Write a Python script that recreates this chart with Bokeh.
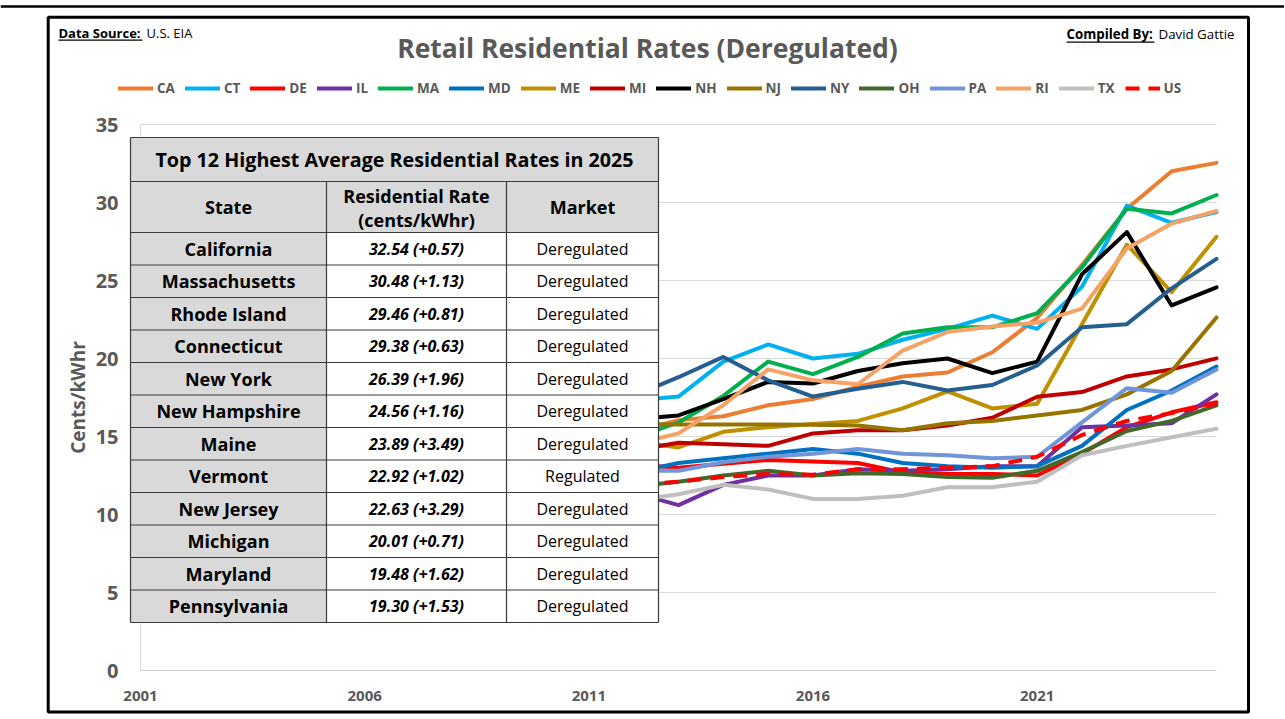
from bokeh.plotting import figure
from bokeh.models import Range1d, FixedTicker, Legend, LegendItem, Label, BoxAnnotation
from bokeh.core.properties import value
from bokeh.embed import file_html
from bokeh.resources import INLINE

# ---------------- data ----------------
years = list(range(2001, 2026))
CA = [12.1, 12.5, 12.1, 12.2, 12.5, 14.0, 14.4, 14.4, 14.7, 14.8, 15.0, 15.3, 16.05, 16.3, 17.0, 17.4, 18.2, 18.85, 19.1, 20.4, 22.6, 26.0, 29.6, 32.0, 32.54]
CT = [11.9, 11.9, 12.2, 12.5, 13.9, 16.9, 19.1, 19.6, 20.3, 19.3, 18.1, 17.3, 17.56, 19.8, 20.9, 20.0, 20.3, 21.2, 21.9, 22.75, 21.9, 24.6, 29.8, 28.7, 29.38]
DE = [8.9, 9.0, 8.9, 8.9, 9.1, 11.4, 12.8, 13.9, 14.1, 13.8, 13.6, 13.2, 13.0, 13.25, 13.5, 13.4, 13.3, 12.7, 12.6, 12.6, 12.5, 13.9, 15.6, 16.55, 17.2]
IL = [8.8, 8.6, 8.4, 8.3, 8.3, 8.4, 10.1, 11.0, 11.3, 11.5, 11.6, 11.4, 10.6, 11.9, 12.5, 12.5, 12.9, 12.8, 12.9, 13.1, 13.1, 15.6, 15.7, 15.85, 17.7]
MA = [11.6, 10.9, 11.8, 12.2, 13.4, 16.5, 16.2, 17.6, 16.9, 14.6, 14.6, 14.9, 15.9, 17.6, 19.8, 19.0, 20.1, 21.6, 22.0, 22.0, 22.9, 25.85, 29.6, 29.3, 30.48]
MD = [8.4, 8.3, 8.0, 8.2, 8.5, 9.7, 11.9, 14.0, 14.6, 14.3, 13.4, 12.7, 13.3, 13.6, 13.9, 14.2, 13.9, 13.3, 13.1, 13.0, 13.1, 14.4, 16.7, 17.95, 19.48]
ME = [12.6, 12.4, 12.4, 12.5, 12.9, 15.0, 15.8, 16.5, 16.2, 15.7, 15.4, 14.7, 14.3, 15.3, 15.6, 15.8, 16.0, 16.8, 17.9, 16.8, 17.1, 22.2, 27.3, 24.25, 27.8]
MI = [8.5, 8.4, 8.3, 8.4, 8.5, 9.9, 10.2, 10.8, 11.6, 12.5, 13.2, 14.1, 14.6, 14.5, 14.4, 15.2, 15.4, 15.4, 15.7, 16.2, 17.55, 17.85, 18.85, 19.3, 20.01]
NH = [12.8, 11.8, 11.7, 12.5, 13.5, 14.7, 14.9, 15.6, 16.3, 16.4, 16.6, 16.1, 16.35, 17.4, 18.5, 18.4, 19.2, 19.7, 20.0, 19.06, 19.8, 25.4, 28.1, 23.4, 24.56]
NJ = [10.6, 10.5, 10.8, 11.1, 11.6, 12.8, 14.7, 15.8, 16.3, 16.4, 16.3, 15.8, 15.77, 15.77, 15.77, 15.75, 15.7, 15.4, 15.85, 16.0, 16.35, 16.7, 17.7, 19.2, 22.63]
NY = [14.0, 13.6, 14.3, 14.5, 15.2, 16.9, 17.1, 18.3, 17.5, 18.7, 18.4, 17.6, 18.8, 20.1, 18.6, 17.56, 18.06, 18.5, 17.95, 18.3, 19.55, 22.0, 22.2, 24.5, 26.39]
OH = [8.6, 8.4, 8.5, 8.5, 8.5, 9.6, 9.9, 10.7, 11.4, 11.6, 11.4, 11.8, 12.1, 12.5, 12.8, 12.5, 12.65, 12.6, 12.4, 12.35, 12.8, 14.0, 15.35, 16.0, 17.0]
PA = [9.7, 9.6, 9.6, 9.7, 10.0, 10.5, 10.8, 11.1, 11.5, 12.8, 13.0, 12.8, 12.8, 13.35, 13.7, 13.9, 14.2, 13.9, 13.8, 13.6, 13.7, 15.9, 18.1, 17.8, 19.30]
RI = [10.9, 10.9, 11.3, 12.0, 13.2, 14.5, 14.4, 15.9, 16.3, 15.6, 14.7, 14.5, 15.2, 17.0, 19.3, 18.6, 18.35, 20.5, 21.7, 22.05, 22.3, 23.2, 27.05, 28.65, 29.46]
TX = [8.9, 8.9, 9.7, 10.3, 11.0, 13.0, 12.3, 13.3, 12.4, 11.6, 11.1, 10.9, 11.3, 11.9, 11.6, 11.0, 11.0, 11.2, 11.75, 11.75, 12.1, 13.8, 14.4, 14.95, 15.5]
US = [8.6, 8.5, 8.7, 8.95, 9.45, 10.4, 10.65, 11.26, 11.51, 11.54, 11.72, 11.88, 12.1, 12.4, 12.6, 12.55, 12.9, 12.9, 13.0, 13.1, 13.7, 15.1, 16.0, 16.5, 17.1]

series_names = ["CA", "CT", "DE", "IL", "MA", "MD", "ME", "MI", "NH", "NJ", "NY", "OH", "PA", "RI", "TX", "US"]
series_values = [CA, CT, DE, IL, MA, MD, ME, MI, NH, NJ, NY, OH, PA, RI, TX, US]
series_colors = ["#ED7D31", "#00B0F0", "#FF0000", "#7030A0", "#00B050", "#0070C0", "#BF9000", "#C00000",
                 "#000000", "#977400", "#255E91", "#43682B", "#7096D8", "#F4A265", "#BFBFBF", "#FF0000"]

x_ticks = [2001, 2006, 2011, 2016, 2021]
y_ticks = [0, 5, 10, 15, 20, 25, 30, 35]

tbl_title = "Top 12 Highest Average Residential Rates in 2025"
tbl_headers = ["State", "Residential Rate", "(cents/kWhr)", "Market"]
tbl_states = ["California", "Massachusetts", "Rhode Island", "Connecticut", "New York", "New Hampshire",
              "Maine", "Vermont", "New Jersey", "Michigan", "Maryland", "Pennsylvania"]
tbl_rates = ["32.54 (+0.57)", "30.48 (+1.13)", "29.46 (+0.81)", "29.38 (+0.63)", "26.39 (+1.96)", "24.56 (+1.16)",
             "23.89 (+3.49)", "22.92 (+1.02)", "22.63 (+3.29)", "20.01 (+0.71)", "19.48 (+1.62)", "19.30 (+1.53)"]
tbl_market = ["Deregulated", "Deregulated", "Deregulated", "Deregulated", "Deregulated", "Deregulated",
              "Deregulated", "Regulated", "Deregulated", "Deregulated", "Deregulated", "Deregulated"]

# ---------------- layout (page pixels) ----------------
W, H = 1284, 718
PX_X0, PX_X1 = 140, 1216      # page x of first / last year
PX_Y0, PX_Y1 = 670, 124       # page y of value 0 / value 35
Y_MAX = 35
ppy = (PX_X1 - PX_X0) / (years[-1] - years[0])
ppv = (PX_Y0 - PX_Y1) / Y_MAX


def dx(px):
    return years[0] + (px - PX_X0) / ppy


def dy(py):
    return (PX_Y0 - py) / ppv


FONT = value("Open Sans")
GRAY = "#595959"

p = figure(width=W, height=H, x_range=Range1d(dx(0), dx(W)), y_range=Range1d(dy(H), dy(0)),
           output_backend="svg", toolbar_location=None, title=None,
           min_border=0, min_border_left=0, min_border_right=0, min_border_top=0, min_border_bottom=0,
           background_fill_color="white", border_fill_color="white", outline_line_color=None)

# axes (fixed inside the frame at the data origin)
xa = p.xaxis[0]
xa.fixed_location = 0
xa.ticker = FixedTicker(ticks=x_ticks)
xa.bounds = (years[0], years[-1])
xa.axis_line_color = "#cccccc"
xa.axis_line_width = 1
xa.major_tick_line_color = None
xa.minor_tick_line_color = None
xa.major_label_text_font = "Open Sans"
xa.major_label_text_font_style = "bold"
xa.major_label_text_font_size = "15px"
xa.major_label_text_color = GRAY
xa.major_label_standoff = 14

ya = p.yaxis[0]
ya.fixed_location = years[0]
ya.ticker = FixedTicker(ticks=y_ticks)
ya.bounds = (0, Y_MAX)
ya.axis_line_color = None
ya.major_tick_line_color = None
ya.minor_tick_line_color = None
ya.major_label_text_font = "Open Sans"
ya.major_label_text_font_style = "bold"
ya.major_label_text_font_size = "20px"
ya.major_label_text_color = GRAY
ya.major_label_standoff = 16
ya.axis_label = "Cents/kWhr"
ya.axis_label_text_font = "Open Sans"
ya.axis_label_text_font_style = "bold"
ya.axis_label_text_font_size = "19px"
ya.axis_label_text_color = GRAY
ya.axis_label_standoff = 2

p.xgrid.visible = False
p.ygrid.visible = False

# gridlines and y axis line, limited to the plot area
gl = y_ticks[1:]
p.segment(x0=[years[0]] * len(gl), x1=[years[-1]] * len(gl), y0=gl, y1=gl, line_color="#d9d9d9", line_width=1)
p.segment(x0=[years[0]], x1=[years[0]], y0=[0], y1=[Y_MAX], line_color="#d9d9d9", line_width=1)

# series lines
renderers = []
for name, vals, col in zip(series_names, series_values, series_colors):
    dash = "14 9" if name == "US" else "solid"
    r = p.line(years, vals, line_color=col, line_width=4, line_dash=dash, line_join="round",
               line_cap="butt" if name == "US" else "round")
    renderers.append(r)

legend = Legend(items=[LegendItem(label=n, renderers=[r]) for n, r in zip(series_names, renderers)],
                orientation="horizontal", location=(118, H - 97),
                glyph_width=35, glyph_height=16, label_height=16, label_width=0, label_standoff=4, spacing=10,
                padding=0, margin=0, border_line_color=None, background_fill_alpha=0,
                label_text_font="Open Sans", label_text_font_style="bold",
                label_text_font_size="13.5px", label_text_color=GRAY)
p.add_layout(legend)

# ---------------- table ----------------
TL, TR, TT = 130, 658, 137
T_TITLE_B, T_HEAD_B, TB = 181, 232, 622
C1, C2 = 326, 506
row_h = (TB - T_HEAD_B) / len(tbl_states)
CELL_GRAY = "#d9d9d9"
LINE = "#3a3a3a"

p.quad(left=[dx(TL)], right=[dx(TR)], top=[dy(TT)], bottom=[dy(TB)], fill_color="white", line_color=None)
p.quad(left=[dx(TL), dx(TL), dx(TL)], right=[dx(TR), dx(TR), dx(C1)],
       top=[dy(TT), dy(T_TITLE_B), dy(T_HEAD_B)], bottom=[dy(T_TITLE_B), dy(T_HEAD_B), dy(TB)],
       fill_color=CELL_GRAY, line_color=None)

h_lines = [TT, T_TITLE_B, T_HEAD_B] + [T_HEAD_B + row_h * (i + 1) for i in range(len(tbl_states))]
p.segment(x0=[dx(TL)] * len(h_lines), x1=[dx(TR)] * len(h_lines), y0=[dy(v) for v in h_lines],
          y1=[dy(v) for v in h_lines], line_color=LINE, line_width=1.2)
p.segment(x0=[dx(TL), dx(TR), dx(C1), dx(C2)], x1=[dx(TL), dx(TR), dx(C1), dx(C2)],
          y0=[dy(TT), dy(TT), dy(T_TITLE_B), dy(T_TITLE_B)], y1=[dy(TB)] * 4,
          line_color=LINE, line_width=1.2)

p.text(x=[dx((TL + TR) / 2)], y=[dy((TT + T_TITLE_B) / 2)], text=[tbl_title], text_align="center",
       text_baseline="middle", text_font=FONT, text_font_style="bold", text_font_size="19.7px", text_color="black")
hx = [dx((TL + C1) / 2), dx((C1 + C2) / 2), dx((C1 + C2) / 2), dx((C2 + TR) / 2)]
hy = [dy((T_TITLE_B + T_HEAD_B) / 2), dy(T_TITLE_B + 14), dy(T_TITLE_B + 38), dy((T_TITLE_B + T_HEAD_B) / 2)]
p.text(x=hx, y=hy, text=tbl_headers, text_align="center", text_baseline="middle", text_font=FONT,
       text_font_style="bold", text_font_size="18px", text_color="black")

row_y = [dy(T_HEAD_B + row_h * (i + 0.5)) for i in range(len(tbl_states))]
p.text(x=[dx((TL + C1) / 2)] * len(row_y), y=row_y, text=tbl_states, text_align="center", text_baseline="middle",
       text_font=FONT, text_font_style="bold", text_font_size="18px", text_color="black")
p.text(x=[dx((C1 + C2) / 2)] * len(row_y), y=row_y, text=tbl_rates, text_align="center", text_baseline="middle",
       text_font=FONT, text_font_style="bold italic", text_font_size="16px", text_color="black")
p.text(x=[dx((C2 + TR) / 2)] * len(row_y), y=row_y, text=tbl_market, text_align="center", text_baseline="middle",
       text_font=FONT, text_font_style="normal", text_font_size="16px", text_color="black")

# ---------------- texts & frames outside the plot area ----------------
p.add_layout(Label(x=dx(647), y=dy(47), text="Retail Residential Rates (Deregulated)", text_align="center",
                   text_baseline="middle", text_font="Open Sans", text_font_style="bold",
                   text_font_size="26.5px", text_color=GRAY))
p.add_layout(Label(x=dx(58), y=dy(32), text="Data Source:", text_align="left", text_baseline="middle",
                   text_font="Open Sans", text_font_style="bold", text_font_size="13px", text_color="black"))
p.add_layout(Label(x=dx(146), y=dy(32), text="U.S. EIA", text_align="left", text_baseline="middle",
                   text_font="Open Sans", text_font_style="normal", text_font_size="13px", text_color="black"))
p.add_layout(Label(x=dx(1066), y=dy(33), text="Compiled By:", text_align="left", text_baseline="middle",
                   text_font="Open Sans", text_font_style="bold", text_font_size="13.3px", text_color="black"))
p.add_layout(Label(x=dx(1158), y=dy(33), text="David Gattie", text_align="left", text_baseline="middle",
                   text_font="Open Sans", text_font_style="normal", text_font_size="13.3px", text_color="black"))

p.add_layout(BoxAnnotation(left=dx(58), right=dx(142), top=dy(39), bottom=dy(40.2), fill_color="black",
                           fill_alpha=1, line_color=None))
p.add_layout(BoxAnnotation(left=dx(1066), right=dx(1154), top=dy(41), bottom=dy(42.2), fill_color="black",
                           fill_alpha=1, line_color=None))
p.add_layout(BoxAnnotation(left=dx(47.7), right=dx(1248), top=dy(16.7), bottom=dy(711.5), fill_color=None,
                           line_color="black", line_alpha=1, line_width=3))
p.add_layout(BoxAnnotation(left=dx(0), right=dx(W), top=dy(4.7), bottom=dy(7.2),
                           fill_color="black", fill_alpha=1, line_color=None))

open("out.html", "w").write(file_html(p, INLINE))
